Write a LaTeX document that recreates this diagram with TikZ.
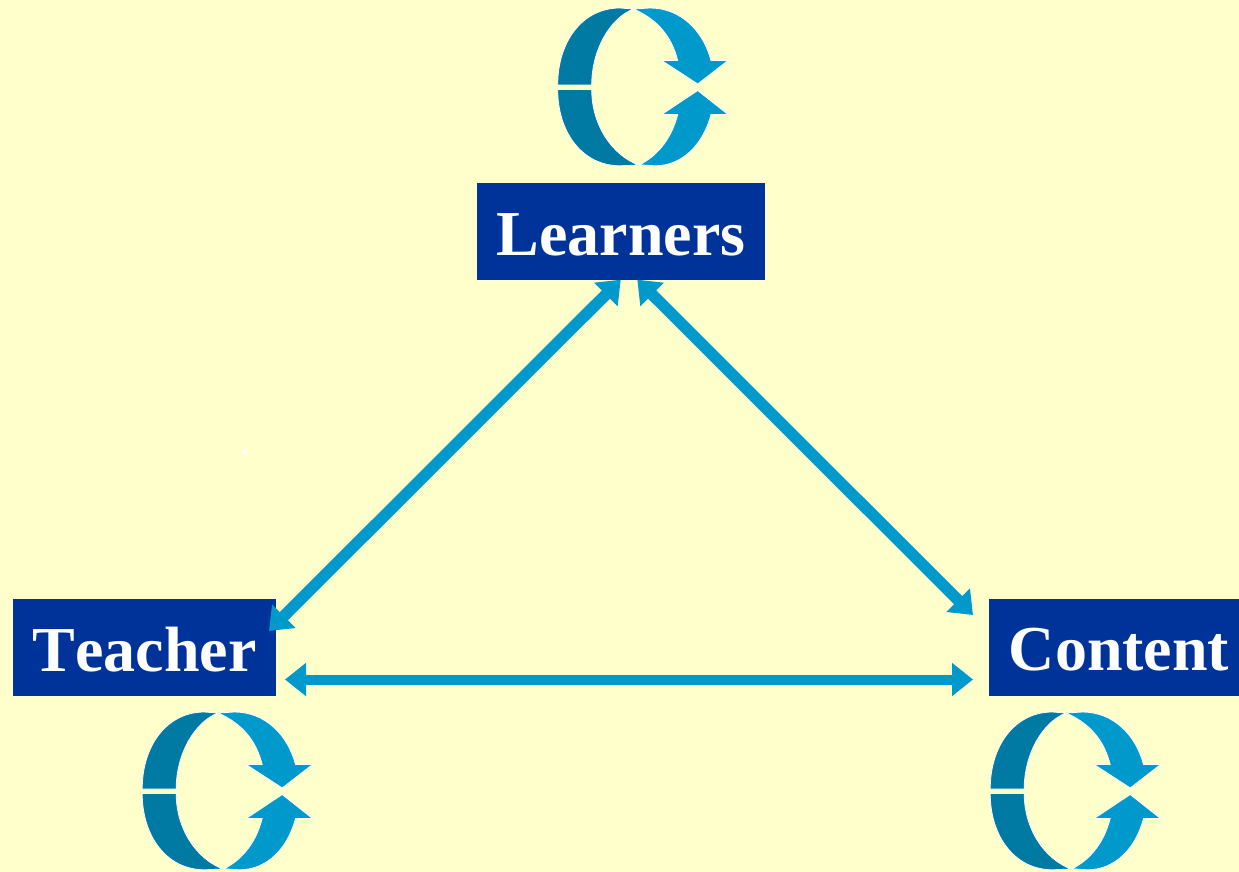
\documentclass[tikz,border=0pt]{standalone}
\usepackage{fontspec}
\setmainfont{Liberation Serif}[Kerning=Off]
\usetikzlibrary{arrows.meta}
\definecolor{bgc}{HTML}{FFFFCC}
\definecolor{boxc}{HTML}{003399}
\definecolor{lightc}{HTML}{0099CC}
\definecolor{darkc}{HTML}{007AA3}
\tikzset{
  box/.style={fill=boxc,anchor=center,inner sep=0pt,minimum height=97pt},
  boxtext/.style={text=white,font=\fontsize{64}{64}\selectfont\bfseries,anchor=center,inner sep=0pt},
  link/.style={draw=lightc,line width=10pt,{Triangle[length=21pt,width=32pt,fill=lightc]}-{Triangle[length=21pt,width=32pt,fill=lightc]}},
  dlink/.style={link,line width=11.5pt,{Triangle[length=21pt,width=32pt,fill=lightc]}-{Triangle[length=21pt,width=32pt,fill=lightc]}},
  dk/.style={fill=darkc,draw=white,line width=0.8pt,line join=miter},
  lt/.style={fill=lightc,draw=white,line width=0.8pt,line join=miter}
}
\newcommand{\cycleicon}[2]{%
\begin{scope}[shift={(#1,#2)}]
\path[dk] (557.7,85) .. controls (557.7,42) and (582,8) .. (620,8) -- (633.5,9) .. controls (610,18) and (591.7,50) .. (591.7,85) -- cycle;
\path[lt] (633.5,9) -- (650,8) .. controls (680,8) and (703,30) .. (711,60.5) -- (728,60.5) -- (697.7,84) -- (661.7,60.5) -- (677.7,60.5) .. controls (672,38) and (659,20) .. (633.5,9) -- cycle;
\path[dk] (557.7,89.5) .. controls (557.7,132) and (582,165.8) .. (620,165.8) -- (638.5,165) .. controls (612,155) and (591.7,125) .. (591.7,89.5) -- cycle;
\path[lt] (639.5,164.8) -- (655,165.8) .. controls (682,165.8) and (703,145) .. (711,114.5) -- (728,114.5) -- (697.7,90.5) -- (661.7,114.5) -- (677.7,114.5) .. controls (672,137) and (659,155) .. (639.5,164.8) -- cycle;
\end{scope}}
\begin{document}
\begin{tikzpicture}[x=1pt,y=-1pt]
\useasboundingbox (0,0) rectangle (1239,872);
\fill[bgc] (0,0) rectangle (1239,872);
\cycleicon{0}{0}
\cycleicon{-415.5}{704}
\cycleicon{432.5}{704}
\node[box,minimum width=288pt] (learners) at (621,231.5) {};
\node[box,minimum width=263pt] (teacher) at (144.5,647.5) {};
\node[box,minimum width=250pt] (content) at (1114,647.5) {};
\node[boxtext] (learnerslabel) at (621,234.5) {Learners};
\node[boxtext] (teacherlabel) at (144.5,650) {Teacher};
\node[boxtext] (contentlabel) at (1119,650) {Content};
\coordinate (lA) at (620.7,279.7);
\coordinate (lB) at (637.3,279.7);
\coordinate (tA) at (269,631);
\coordinate (tB) at (285,679.5);
\coordinate (cA) at (973,615);
\coordinate (cB) at (973,679.5);
\draw[dlink] (lA) -- (tA);
\draw[dlink] (lB) -- (cA);
\draw[link] (tB) -- (cB);
\fill[white] (245,452) circle (3pt);
\end{tikzpicture}
\end{document}
